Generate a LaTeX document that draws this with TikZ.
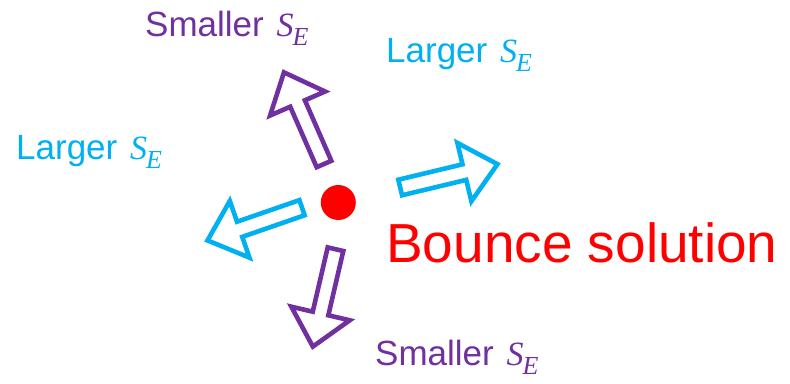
\documentclass[tikz,border=0pt]{standalone}
\usepackage{fontspec}
\setmainfont{Liberation Sans}
\newfontfamily\mfont{Liberation Serif}
\definecolor{purp}{RGB}{112,48,160}
\definecolor{cyanc}{RGB}{0,176,240}
\definecolor{redc}{RGB}{255,0,0}
\tikzset{
  blockarrow/.pic={\draw[pic actions] (0,-8) -- (66,-8) -- (66,-30) -- (100,0) -- (66,30) -- (66,8) -- (0,8) -- cycle;},
  lbl/.style={anchor=base west, inner sep=0pt, font=\fontsize{35}{40}\selectfont},
  arr/.style={line width=4.6pt, line join=miter},
}
\newcommand{\SE}{\hspace{3pt}{\fontsize{34}{36}\selectfont\mfont\itshape S}\hspace{-1pt}\raisebox{-9pt}{\fontsize{26}{28}\selectfont\mfont\itshape E}}
\begin{document}
\begin{tikzpicture}[x=1pt,y=-1pt]
\useasboundingbox (0,0) rectangle (790,383);
% arrows
\pic[arr, draw=purp, rotate=113.6] at (324,164) {blockarrow};
\pic[arr, draw=cyanc, rotate=199.1] at (302,207.7) {blockarrow};
\pic[arr, draw=purp, rotate=256.9] at (335.5,249.2) {blockarrow};
\pic[arr, draw=cyanc, rotate=13.5] at (400.2,187.5) {blockarrow};
% dot
\node[circle, fill=redc, minimum size=35pt, inner sep=0pt] (dot) at (338.3,202.5) {};
% labels
\node[lbl, text=purp] (smallTop) at (145,36) {Smaller \SE};
\node[lbl, text=cyanc] (largeTR) at (386,62) {Larger \SE};
\node[lbl, text=cyanc] (largeL) at (16,159) {Larger \SE};
\node[lbl, text=purp] (smallBot) at (375,365) {Smaller \SE};
\node[anchor=base west, inner sep=0pt, text=redc, font=\fontsize{55}{60}\selectfont] (bounce) at (386,262) {Bounce solution};
\end{tikzpicture}
\end{document}
